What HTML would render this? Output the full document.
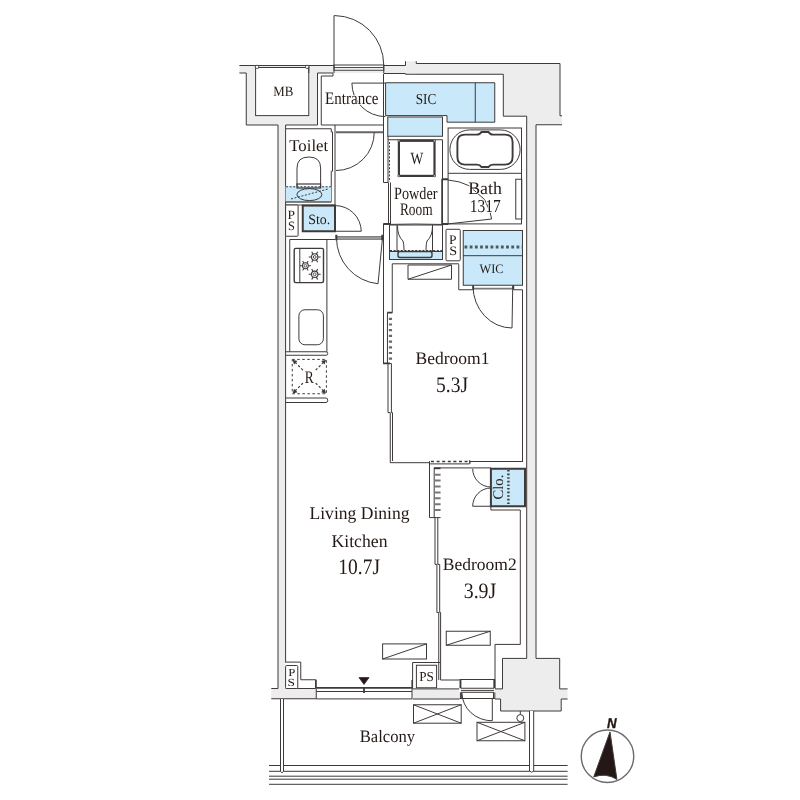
<!DOCTYPE html>
<html><head><meta charset="utf-8">
<style>
html,body{margin:0;padding:0;background:#fff;width:800px;height:800px;overflow:hidden}
svg{display:block;stroke:#3e3a39;stroke-width:1;will-change:transform}
.l{fill:none}
.t{fill:none}
.g{fill:#ededed;stroke:none}
.wf{fill:#fff}
.bf{fill:#c9e8f9}
.d{fill:none}
text{font-family:"Liberation Serif",serif;fill:#231815;stroke:none;text-rendering:geometricPrecision}
</style></head>
<body>
<svg width="800" height="800" viewBox="0 0 800 800">
<defs><g id="burner">
<circle class="l" cx="0" cy="0" r="3.2" stroke-width="1.1"/><circle class="l" cx="0" cy="0" r="1.4" stroke-width="0.9"/>
<path class="l" stroke-width="1.1" d="M-6,0 H-3.2 M6,0 H3.2 M-3,-5.2 L-1.6,-2.8 M3,-5.2 L1.6,-2.8 M-3,5.2 L-1.6,2.8 M3,5.2 L1.6,2.8"/>
</g></defs>
<!-- ===== gray wall fills ===== -->
<g id="fills">
<rect class="g" x="239.4" y="65" width="166" height="8"/>
<rect class="g" x="405.5" y="61.25" width="10.75" height="12.5"/><rect class="g" x="416" y="63.5" width="144" height="11"/>
<rect class="g" x="246.25" y="73" width="9.35" height="52"/>
<rect class="g" x="246.25" y="115.6" width="71.25" height="9.4"/>
<rect class="g" x="308.75" y="67.5" width="8.75" height="57.5"/>
<rect class="g" x="278" y="125" width="7.6" height="564"/>
<rect class="g" x="503.3" y="63.5" width="56.7" height="52.7"/>
<rect class="g" x="526.5" y="116" width="35.5" height="8.75"/>
<rect class="g" x="526" y="116" width="10" height="543"/>
<rect class="g" x="271.25" y="688.9" width="45" height="10.1"/>
<rect class="g" x="412.6" y="688.9" width="46.8" height="10.1"/>
<rect class="g" x="495" y="688.9" width="72.6" height="10.1"/>
<rect class="g" x="502.5" y="658.4" width="57.2" height="52.6"/><rect class="g" x="500.6" y="698" width="60.6" height="13"/>
</g>

<!-- ===== outer walls lines ===== -->
<g id="outer">
<path class="l" d="M239.4,65.5 H405.5 V61.25 M416.25,61.25 V63.5 H560 V115.75 H562"/>
<path class="l" d="M239.4,73 H246.25 V125 H278 V688.5 H271.25 M271.25,698.75 H316.25"/>
<path class="l" d="M285.6,125 V662.5"/>
<path class="l" d="M285.6,125 H317.5"/>
<rect class="wf" x="255.6" y="67.5" width="53.15" height="48.1"/>
<path class="l" d="M255.6,67.5 V65.5 M308.75,67.5 V65.5"/><rect x="255.4" y="65.4" width="3.2" height="3" rx="0.8" fill="#fff" stroke-width="0.9"/><rect x="305.6" y="65.4" width="3.2" height="3" rx="0.8" fill="#fff" stroke-width="0.9"/>
<path class="l" d="M308.75,73 V67.5 M317.5,125 V73 H333 V76 H321.25 V125 H383.5"/>
<!-- entrance door frame -->
<rect class="wf" x="334" y="65" width="49.75" height="5.25"/>
<path class="l" d="M334,67.6 H383.75"/><path class="l" d="M334,65 V73 M383.75,65 V73"/>
<path class="l" d="M334,65 V15.6 Q334,15.5 335,15.6 A49.5,49.5 0 0 1 383.75,65"/>
<path class="l" d="M383.75,73.5 H405.5 V74.25 H503.3 V116.2 H526.7 V658.4"/>
<path class="l" d="M536,124.75 H562 M536,124.75 V658.4"/>
<!-- column -->
<path class="l" d="M526.7,658.4 H502.5 V688.9 H495 M536,658.4 H559.7 V688.9 H567.6 M567.6,699 H561.2 V711 H500.6 V699 H495"/>
<path class="l" d="M412.6,688.9 H459.4 M412.6,699 H459.4"/>
<path class="l" d="M285.6,688.5 H315.75"/>
</g>

<!-- ===== Entrance / SIC ===== -->
<g id="entrance">
<path class="l" d="M383.5,73.8 V182.5 H388 V136"/>
<path class="d" stroke-dasharray="2 1.6" d="M389.5,142 V182"/>
<path class="l" d="M351.9,83.1 H385.6 M351.9,83.1 A33.5,33.5 0 0 0 385.4,116.6"/>
<path class="bf" d="M385.6,82.75 H494.75 V122.2 H447 V115.6 H385.6 Z"/>
<path class="l" d="M475.25,82.75 V122.2"/>
<rect class="bf" x="387.75" y="117" width="54.75" height="19.25"/>
</g>

<!-- ===== Toilet ===== -->
<g id="toilet">
<path class="l" d="M285.6,128.75 H331.25 V131.9 H332.5 V171.25 H331.25 V201.9 H285.6"/>
<path class="l" d="M335,125 V231.25"/>
<path class="t" stroke-width="1.8" d="M336,132.25 H383.3" stroke="#6a6564"/>
<path class="l" d="M374.25,132.25 A38.25,38.25 0 0 1 336,170.5"/>
<rect class="bf" x="285.6" y="186.25" width="45.65" height="15.65" stroke="none"/>
<path class="d" stroke-dasharray="2 1.6" d="M286,186.8 H331"/>
<path class="l" d="M285.6,201.9 H331.25 M285.6,205 H335"/>
<path class="l" d="M297,186 V168 Q297,157 309,157 Q320.6,157 320.6,168 V186"/>
<rect class="l" x="297" y="184" width="23.6" height="4" stroke-width="1.2"/>
<ellipse class="l" cx="309.4" cy="194.6" rx="12.5" ry="6"/>
<path class="d" stroke-dasharray="2 1.6" d="M291,199 L328,189"/>
</g>

<!-- ===== PS / Sto ===== -->
<g id="sto">
<rect class="wf" x="285.6" y="205" width="12.5" height="31.25" rx="1"/>
<rect class="bf" x="302.75" y="205.6" width="32.25" height="25.65" stroke-width="2"/>
<path class="l" d="M335,231.25 H361.25 M335,205.6 A26,26 0 0 1 361.25,231.25"/>
</g>

<!-- ===== Kitchen ===== -->
<g id="kitchen">
<path class="l" d="M289.75,239.5 H335.5 M326.9,239.5 V351.75 M289.75,239.5 V351.75"/>
<rect class="l" x="294.2" y="248.4" width="29.3" height="34.2" rx="1.5" stroke-width="1.4"/>
<path class="l" d="M299.8,248.4 V282.6"/>
<use href="#burner" x="314.7" y="257"/><use href="#burner" transform="translate(305.4,265.75) scale(0.92)"/><use href="#burner" x="314.7" y="274.3"/>
<rect class="l" x="298.9" y="309.75" width="24.5" height="35" rx="6"/>
<path class="l" d="M285.6,351.75 H326 Q327.75,351.75 327.75,353.5 Q327.75,355.25 326,355.25 H285.6"/>
<rect class="d" stroke-dasharray="2.5 2.5" x="292.25" y="359.4" width="34.15" height="34.35"/>
<path class="d" stroke-width="1.2" stroke-dasharray="2.4 2" d="M295,362.2 L303.5,370.7 M323.6,362.2 L315.1,370.7 M295,391 L303.5,382.5 M323.6,391 L315.1,382.5"/><path stroke="none" fill="#3e3a39" d="M292.6,359.8 L297.5,361 L294,364.5 Z M326,359.8 L321.1,361 L324.6,364.5 Z M292.6,393.4 L297.5,392.2 L294,388.7 Z M326,393.4 L321.1,392.2 L324.6,388.7 Z"/>
<path class="l" d="M285.6,398 H326 Q327.75,398 327.75,400.25 Q327.75,402.5 326,402.5 H285.6"/>
</g>

<!-- ===== LDK door & corridor right wall ===== -->
<g id="ldkdoor">
<rect x="336.5" y="236.4" width="45.5" height="3" fill="#9a9898" stroke="#555" stroke-width="0.6"/><path class="l" stroke-width="2" d="M336.3,234.8 V240.3 M382.3,234.8 V240.3"/>
<path class="l" d="M382.5,238 L378,283.75 A46,46 0 0 1 336.5,238"/>
<path class="l" d="M383.5,223.5 V364"/>
<path class="l" d="M383.5,223.5 H390"/>
<path class="l" d="M392.25,263.8 V312.7 M387.45,312.7 V363.4"/><path class="l" stroke-width="1.8" d="M387.2,312.7 H392.3 M383.2,363.4 H390"/>
<path class="d" stroke="#6a6666" stroke-width="3.2" stroke-dasharray="2.2 3.5" d="M390.45,317.7 V361"/>
<path class="l" d="M383.5,363.5 H391.4 M388,363.5 V412.6 H390.25 V462.7 H429.4 M391.4,363.5 V412.6 H392.5 V461"/>
</g>

<!-- ===== Powder room ===== -->
<g id="powder">
<path class="l" d="M388,139.75 H442.5 V224.5"/>
<path class="l" d="M388.5,182.5 V224.5 M390.5,182.5 V224.5"/>
<rect class="l" x="398.9" y="140.8" width="35.6" height="35.1" stroke-width="2.2"/><g fill="#fff" stroke-width="0.7"><circle cx="398.9" cy="140.8" r="1"/><circle cx="434.5" cy="140.8" r="1"/><circle cx="398.9" cy="175.9" r="1"/><circle cx="434.5" cy="175.9" r="1"/></g>
<path class="l" d="M383.5,224.5 Q415,223.5 446,224.5"/>
<rect class="l" x="389.5" y="225" width="53" height="34.5"/>
<rect class="bf" x="389.5" y="251.5" width="53" height="8" stroke-width="1"/>
<path class="l" d="M397,225 V251.5 M432.5,225 V251.5"/>
<path class="l" d="M397.5,226 Q397.5,236 403,241 Q404,244 404,250 M432.5,226 Q432.5,236 427,241 Q426,244 426,250"/>
<path class="d" stroke-dasharray="2 1.6" d="M390,250.5 H442"/>
<rect class="l" x="398" y="251.5" width="34" height="6" rx="2" stroke-width="1.4"/>
</g>

<!-- ===== Bath ===== -->
<g id="bath">
<rect class="l" x="448.1" y="128" width="73.4" height="95.9"/>
<path class="l" d="M448.1,173.3 H521.5"/>
<rect class="l" x="449.9" y="129.9" width="70.2" height="39.5" rx="19.75"/>
<path class="l" stroke-width="1.9" d="M465,134.6 H477 Q480,134.6 481.5,132 H488.5 Q490,134.6 493,134.6 H505 Q512.6,134.6 512.6,142 V157 Q512.6,164.6 505,164.6 H493 Q490,164.6 488.5,167 H481.5 Q480,164.6 477,164.6 H465 Q457.4,164.6 457.4,157 V142 Q457.4,134.6 465,134.6 Z"/>
<rect class="l" x="515.75" y="179.25" width="6" height="39.75"/>
<path class="l" d="M441.75,179.25 V223.9"/><path class="t" stroke-width="2" d="M441.75,179.25 H448.1 M441.75,223.9 H448.1"/>
<path class="l" d="M448.1,180 Q460,181 468.75,185.6 L484.5,199.5 L489.75,210.75 L491.6,219 L448.1,223.9"/>
</g>

<!-- ===== PS & WIC ===== -->
<g id="wic">
<rect class="wf" x="446" y="229.3" width="14.25" height="31.5" rx="1"/>
<rect class="bf" x="463.25" y="230.5" width="59.25" height="54.75"/>
<path class="l" d="M464.5,247 H522.5" stroke="#4a5a62" stroke-width="3" stroke-dasharray="2.8 2.4"/>
<path class="l" d="M463.25,255.7 H522.5"/>
<path class="l" d="M458.75,264.25 V289.75 H473 M513.5,289.75 H522.5 V462"/>
<path class="l" stroke-width="1.8" d="M473.2,285.25 V289.75 M513.3,285.25 V289.75"/><path class="l" stroke="#777" stroke-width="1.6" d="M474,288.6 H512.5"/>
<path class="l" d="M512.75,286 L512,328 A39,42 0 0 1 473,286"/>
<!-- bedroom1 top wall & closet -->
<path class="l" d="M392.25,263.8 H458.75"/>
<path class="l" d="M408,265 H451.5 V279.25 H408 Z M408,279.25 L451.5,265"/>
</g>

<!-- ===== Bedroom1 ===== -->
<g id="bed1">
<path class="d" stroke-width="1.5" stroke-dasharray="3 2.6" d="M431,461.6 H469.7"/><path class="l" d="M430,463.9 H469.5"/>
<path class="l" d="M469.7,460 V463.5 H470 V461.5 H522.5"/>
</g>

<!-- ===== Bedroom2 ===== -->
<g id="bed2">
<path class="l" d="M429.5,461.1 V517.6 H440.6 M434.2,467.9 V517.6 M434.2,467.9 H490.9"/>
<path class="l" stroke-width="1.8" d="M434,468.3 H440.5"/>
<path class="d" stroke="#7a7676" stroke-width="5.6" stroke-dasharray="2 3.9" d="M437.8,473.7 V514"/>
<path class="l" d="M435,517.6 V564.4 H436.9 V612.5 H438.75 V680 M437.8,517.6 V564.4 H439.7 V612.5 H440.6 V680 H459.4"/>
<rect class="bf" x="490.9" y="468.75" width="34.1" height="37.5" stroke-width="2"/>
<path class="l" d="M508.4,470 V506" stroke-width="2.4" stroke-dasharray="1.6 2"/>
<path class="l" d="M472.7,468.75 A18.2,18.2 0 0 0 490.9,487 M472.7,506.25 A18.2,18.2 0 0 1 490.9,488 M472.7,506.25 H490.9"/>
<path class="l" d="M490.9,506.25 V510 H520.3 V644.4 H495 V688.9"/>
<rect class="l" x="446.25" y="631.25" width="44" height="14"/>
<path class="l" d="M446.25,645.25 L490.25,631.25"/>
</g>

<!-- ===== LDK ===== -->
<g id="ldk">
<rect class="l" x="382.6" y="643.9" width="43.9" height="15.1"/>
<path class="l" d="M382.6,659 L426.5,643.9"/>
<!-- left PS -->
<path class="l" d="M285.6,662.1 H300.75 V679.75 H315.75 V688.5"/>
<rect class="wf" x="285.6" y="665.5" width="12.15" height="23" rx="1"/>
<!-- window -->
<path class="l" d="M316.25,691.5 H412 M316.25,698.9 H412 M316.25,688.9 V698.9 M412,688.9 V698.9"/><path class="l" stroke-width="1.6" d="M316.25,687.9 H412 M315.9,679.75 V688.5 M412.2,680 V688.5"/>
<path class="t" stroke-width="1.8" d="M364,688 V693"/>
<path d="M359,677.6 L369,677.6 L364,684.4 Z" fill="#231815"/>
<!-- right PS -->
<path class="l" d="M412.6,688.9 V662.5 H440.6"/>
<rect class="wf" x="416.4" y="665.25" width="20.2" height="22.5"/>
</g>

<!-- ===== Bedroom2 balcony door ===== -->
<g id="b2door">
<rect x="459.5" y="679.5" width="35.5" height="19" fill="#fff" stroke="none"/>
<path class="l" d="M459.5,679.5 H495 M461,688.25 H494 M461,690.4 H494 M461,692.3 H494 M459.5,698.5 H495"/>
<path class="l" stroke-width="1.9" d="M460.45,679.5 V688.25 M494.3,679.5 V688.25"/>
<path class="l" d="M460.4,692.3 V698.5 M461.4,692.3 V698.5 M493.5,692.3 V698.5 M494.8,692.3 V698.5"/>
<path class="l" d="M462,693.25 A30,28 0 0 0 492.3,720.75 V698.5"/>
</g>

<!-- ===== Balcony ===== -->
<g id="balcony">
<path class="l" d="M269,765.5 H567.6 M269,771.3 H567.6 M269,776.2 H567.6 M269,779.2 H567.6 M269,784.3 H567.6"/>
<path d="M280.5,699 V771.5 Q282,774 283.5,771.5 V699" fill="#fff"/>
<path d="M529.5,711 V771 Q531.6,773.5 533.7,771 V711" fill="#fff"/>
<circle class="l" cx="520.3" cy="718.1" r="3.5"/>
<path class="l" d="M520.3,714.6 V711"/>
<rect class="l" x="413.5" y="704.75" width="47.7" height="18.45"/>
<path class="l" d="M413.5,704.75 L461.2,723.2 M413.5,723.2 L461.2,704.75"/>
<rect class="l" x="477" y="722.3" width="47.9" height="18.45"/>
<path class="l" d="M477,722.3 L524.9,740.75 M477,740.75 L524.9,722.3"/>
</g>

<!-- ===== Compass ===== -->
<g id="compass">
<circle cx="607.5" cy="756.25" r="26.25" fill="none" stroke="#6b6b6b" stroke-width="1.4"/>
<path d="M610,731.9 L616.9,779.4 Q606,772.5 593.75,776.9 Z" fill="#231815"/>
</g>
<text id="mb" x="273.20" y="96.4" font-size="14.2" textLength="20.10" lengthAdjust="spacingAndGlyphs">MB</text>
<text id="ent" x="325.10" y="103.7" font-size="17.6" textLength="53.40" lengthAdjust="spacingAndGlyphs" style="stroke:#fff;stroke-width:1.6;paint-order:stroke">Entrance</text>
<text id="sic" x="415.70" y="104.0" font-size="15.3" textLength="20.55" lengthAdjust="spacingAndGlyphs">SIC</text>
<text id="toilet" x="289.30" y="150.6" font-size="16.6" textLength="38.90" lengthAdjust="spacingAndGlyphs">Toilet</text>
<text id="w" x="410.45" y="163.75" font-size="17.2" textLength="12.80" lengthAdjust="spacingAndGlyphs">W</text>
<text id="powder" x="394.10" y="199.4" font-size="17.3" textLength="43.30" lengthAdjust="spacingAndGlyphs">Powder</text>
<text id="room" x="399.90" y="214.8" font-size="17.6" textLength="32.70" lengthAdjust="spacingAndGlyphs">Room</text>
<text id="bath" x="468.20" y="193.75" font-size="17.6" textLength="33.60" lengthAdjust="spacingAndGlyphs" style="stroke:#fff;stroke-width:1.6;paint-order:stroke">Bath</text>
<text id="n1317" x="469.70" y="212.2" font-size="18.3" textLength="31.00" lengthAdjust="spacingAndGlyphs" style="stroke:#fff;stroke-width:1.6;paint-order:stroke">1317</text>
<text id="ps1p" x="287.60" y="218.5" font-size="12.7" textLength="7.50" lengthAdjust="spacingAndGlyphs">P</text>
<text id="ps1s" x="287.90" y="230.2" font-size="12.7" textLength="6.90" lengthAdjust="spacingAndGlyphs">S</text>
<text id="sto" x="308.30" y="223.6" font-size="14.2" textLength="22.00" lengthAdjust="spacingAndGlyphs">Sto.</text>
<text id="ps2p" x="449.00" y="244.0" font-size="13.0" textLength="7.50" lengthAdjust="spacingAndGlyphs">P</text>
<text id="ps2s" x="449.30" y="255.2" font-size="13.0" textLength="7.90" lengthAdjust="spacingAndGlyphs">S</text>
<text id="wic" x="479.50" y="273.0" font-size="13.0" textLength="24.00" lengthAdjust="spacingAndGlyphs">WIC</text>
<text id="r" x="304.70" y="382.5" font-size="17.7" textLength="9.00" lengthAdjust="spacingAndGlyphs">R</text>
<text id="bed1" x="415.50" y="363.5" font-size="17.6" textLength="74.00" lengthAdjust="spacingAndGlyphs">Bedroom1</text>
<text id="j53" x="436.00" y="391.5" font-size="22.1" textLength="32.00" lengthAdjust="spacingAndGlyphs">5.3J</text>
<text id="bed2" x="442.75" y="569.75" font-size="17.4" textLength="73.95" lengthAdjust="spacingAndGlyphs">Bedroom2</text>
<text id="j39" x="463.75" y="597.75" font-size="22.0" textLength="32.50" lengthAdjust="spacingAndGlyphs">3.9J</text>
<text id="ld" x="309.50" y="518.6" font-size="17.9" textLength="100.00" lengthAdjust="spacingAndGlyphs">Living Dining</text>
<text id="kit" x="331.50" y="546.8" font-size="17.9" textLength="56.00" lengthAdjust="spacingAndGlyphs">Kitchen</text>
<text id="j107" x="338.30" y="574.3" font-size="22.1" textLength="41.70" lengthAdjust="spacingAndGlyphs">10.7J</text>
<text id="balc" x="359.75" y="742.1" font-size="17.4" textLength="55.45" lengthAdjust="spacingAndGlyphs">Balcony</text>
<text id="ps3p" x="288.20" y="675.6" font-size="10.8" textLength="7.10" lengthAdjust="spacingAndGlyphs">P</text>
<text id="ps3s" x="287.50" y="685.9" font-size="10.8" textLength="7.50" lengthAdjust="spacingAndGlyphs">S</text>
<text id="ps4" x="419.20" y="681.1" font-size="13.7" textLength="14.55" lengthAdjust="spacingAndGlyphs">PS</text>
<text id="clo" x="0" y="0" font-size="14.7" text-anchor="middle" transform="translate(503.4,487.1) rotate(-90)">Clo.</text>
<text id="north" x="606.9" y="727.7" font-size="14.2" font-weight="bold" font-style="italic" textLength="9.6" lengthAdjust="spacingAndGlyphs" style="font-family:'Liberation Sans',sans-serif;stroke:#231815;stroke-width:0.35">N</text>
</svg>
</body></html>
